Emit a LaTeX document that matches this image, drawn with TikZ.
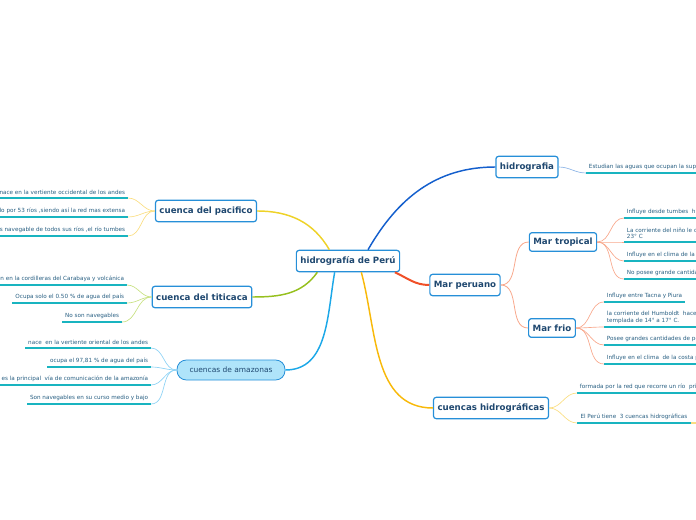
\documentclass[tikz,border=0pt]{standalone}
\usepackage{fontspec}
\setmainfont{DejaVu Sans}
\usepackage{xcolor}
\definecolor{navytext}{RGB}{31, 72, 112}
\definecolor{leaftext}{RGB}{40, 95, 130}
\definecolor{boxblue}{RGB}{38, 143, 216}
\definecolor{tealline}{RGB}{25, 180, 192}
\definecolor{bluebranch}{RGB}{20, 95, 205}
\definecolor{redbranch}{RGB}{240, 80, 40}
\definecolor{salmonbranch}{RGB}{248, 168, 140}
\definecolor{orangebranch}{RGB}{248, 185, 10}
\definecolor{paleyellow}{RGB}{250, 222, 130}
\definecolor{yellowbranch}{RGB}{238, 210, 40}
\definecolor{greenbranch}{RGB}{150, 192, 30}
\definecolor{palegreen}{RGB}{200, 225, 130}
\definecolor{skybranch}{RGB}{28, 168, 232}
\definecolor{paleskybranch}{RGB}{140, 210, 245}
\definecolor{amazonfill}{RGB}{175, 228, 250}
\definecolor{greyblue}{RGB}{140, 180, 230}
\usepackage{tikz}
\usetikzlibrary{positioning}

\begin{document}
\begin{tikzpicture}[x=0.75pt, y=-0.75pt,
    topic/.style={draw=boxblue, line width=0.9pt, rounded corners=2pt, fill=white,
        font=\bfseries\fontsize{6.5}{7.5}\selectfont, text=navytext, minimum height=16pt, inner xsep=3pt},
    subtopic/.style={topic, minimum height=14pt},
    leaf/.style={font=\fontsize{4.25}{5.2}\selectfont, text=leaftext, inner xsep=2pt, inner ysep=2pt, align=left},
    underline/.style={draw=tealline, line width=1.3pt},
    branch/.style={line width=1.1pt}]

    \useasboundingbox (0,0) rectangle (696,520);
    \coordinate (rim) at (700,0);

    % Central box
    \node[topic] (main) at (348,261) {hidrografía de Perú};

    % First level
    \node[topic] (hidro) at (527,167) {hidrografia};
    \node[topic] (mar) at (465,285) {Mar peruano};
    \node[subtopic] (tropical) at (563,242) {Mar tropical};
    \node[subtopic] (frio) at (552,328) {Mar frio};
    \node[topic] (cuencas) at (491,408) {cuencas hidrográficas};
    \node[topic] (pacifico) at (206,211) {cuenca del pacifico};
    \node[topic] (titicaca) at (202,297) {cuenca del titicaca};
    \node[draw=boxblue, line width=0.6pt, rounded corners=7pt, fill=amazonfill, text=navytext,
        font=\fontsize{5.6}{6.5}\selectfont, minimum height=15pt, minimum width=81pt] (amazonas) at (231,370) {cuencas de amazonas};

    % Branches from the central box
    \draw[branch, bluebranch] ([xshift=15pt]main.north) to[out=60, in=180] (hidro.west);
    \draw[branch, redbranch, line width=1.5pt] ([xshift=-4pt]main.south east) to[out=-25, in=180] (mar.west);
    \draw[branch, orangebranch] ([xshift=10pt]main.south) to[out=-75, in=180] (cuencas.west);
    \draw[branch, yellowbranch] ([xshift=-14pt]main.north) to[out=120, in=0] (pacifico.east);
    \draw[branch, greenbranch] ([xshift=-23pt]main.south) to[out=235, in=0] (titicaca.east);
    \draw[branch, skybranch] ([xshift=-10pt]main.south) to[out=-100, in=0] (amazonas.east);

    % Mar peruano
    \draw[salmonbranch, line width=0.6pt] (mar.east) to[out=0, in=180] (tropical.west);
    \draw[salmonbranch, line width=0.6pt] (mar.east) to[out=0, in=180] (frio.west);

    % Leaves of hidrografia
    \node[leaf, anchor=south west] (h1) at (586,173) {Estudian las aguas que ocupan la supe};

    % Leaves of Mar tropical
    \node[leaf, anchor=south west] (r1) at (624,218) {Influye desde tumbes\ \ h};
    \node[leaf, anchor=south west] (r2) at (624,242) {La corriente del niño le d\\23° C};
    \node[leaf, anchor=south west] (r3) at (624,261) {Influye en el clima de la};
    \node[leaf, anchor=south west] (r4) at (624,279) {No posee grande cantida};

    % Leaves of Mar frio
    \node[leaf, anchor=south west] (f1) at (604,302) {Influye entre Tacna y Piura};
    \node[leaf, anchor=south west] (f2) at (604,327) {la corriente del Humboldt\ \ hace\\templada de 14° a 17° C.};
    \node[leaf, anchor=south west] (f3) at (604,345) {Posee grandes cantidades de pe};
    \node[leaf, anchor=south west] (f4) at (604,364) {Influye en el clima\ \ de la costa p};

    % Leaves of cuencas hidrograficas
    \node[leaf, anchor=south west] (c1) at (577,393) {formada por la red que recorre un río\ \ pri};
    \node[leaf, anchor=south west, minimum width=85pt] (c2) at (577,423) {El Perú tiene\ \ 3 cuencas hidrográficas};

    % Leaves of cuenca del pacifico
    \node[leaf, anchor=south east] (p1) at (128,198) {nace en la vertiente occidental de los andes};
    \node[leaf, anchor=south east] (p2) at (128,217) {do por 53 ríos ,siendo así la red mas extensa};
    \node[leaf, anchor=south east] (p3) at (128,236) {es navegable de todos sus ríos ,el río tumbes};

    % Leaves of cuenca del titicaca
    \node[leaf, anchor=south east] (t1) at (127,285) {en en la cordilleras del Carabaya y volcánica};
    \node[leaf, anchor=south east] (t2) at (127,303) {Ocupa solo el 0.50 \% de agua del país};
    \node[leaf, anchor=south east] (t3) at (122,322) {No son navegables};

    % Leaves of cuencas de amazonas
    \node[leaf, anchor=south east] (a1) at (151,348) {nace\ \ en la vertiente oriental de los andes};
    \node[leaf, anchor=south east] (a2) at (151,367) {ocupa el 97,81 \% de agua del país};
    \node[leaf, anchor=south east] (a3) at (151,385) {es la principal\ \ vía de comunicación de la amazonía};
    \node[leaf, anchor=south east] (a4) at (151,404) {Son navegables en su curso medio y bajo};

    % Underlines
    \foreach \n in {h1, r1, r2, r3, r4, f2, f3, f4, c1}
        \draw[underline] (\n.south west) -- (\n.south west -| rim);
    \foreach \n in {f1, c2, p1, p2, p3, t1, t2, t3, a1, a2, a3, a4}
        \draw[underline] (\n.south west) -- (\n.south east);

    % Leaf connectors
    \draw[greyblue, line width=0.5pt] (hidro.east) to[out=0, in=180] (h1.south west);
    \foreach \n in {r1, r2, r3, r4}
        \draw[salmonbranch, line width=0.5pt] (tropical.east) to[out=0, in=180] (\n.south west);
    \foreach \n in {f1, f2, f3, f4}
        \draw[salmonbranch, line width=0.5pt] (frio.east) to[out=0, in=180] (\n.south west);
    \foreach \n in {c1, c2}
        \draw[paleyellow, line width=0.5pt] (cuencas.east) to[out=0, in=180] (\n.south west);
    \draw[paleyellow, line width=1pt] (c2.south east) -- (c2.south east -| rim);
    \foreach \n in {p1, p2, p3}
        \draw[paleyellow, line width=0.5pt] (pacifico.west) to[out=180, in=0] (\n.south east);
    \foreach \n in {t1, t2, t3}
        \draw[palegreen, line width=0.5pt] (titicaca.west) to[out=180, in=0] (\n.south east);
    \foreach \n in {a1, a2, a3, a4}
        \draw[paleskybranch, line width=0.5pt] (amazonas.west) to[out=180, in=0] (\n.south east);

\end{tikzpicture}
\end{document}
